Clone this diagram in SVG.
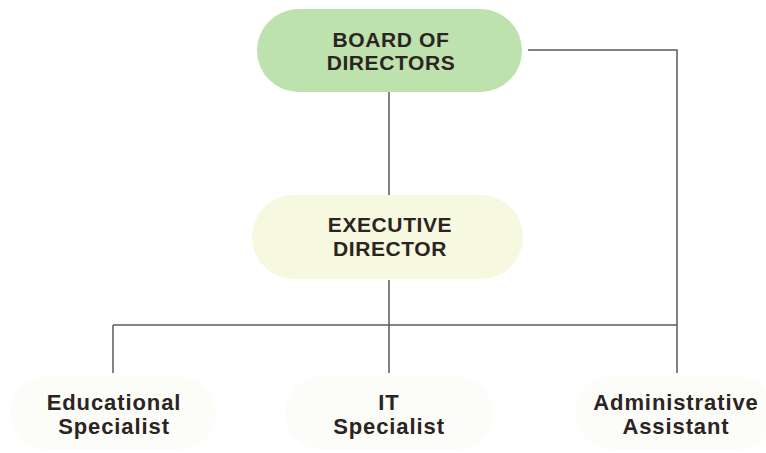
<svg xmlns="http://www.w3.org/2000/svg" width="766" height="453" viewBox="0 0 766 453">
<style>
.t{font-family:"Liberation Sans",Arial,sans-serif;font-weight:bold;fill:#2b2422;text-anchor:middle}
.top{font-size:21px;letter-spacing:0.6px}
.bot{font-size:22px;letter-spacing:0.9px}
.ln{stroke:#5a5a5a;stroke-width:1.5;fill:none}
.pill{fill:#fcfcf8}
</style>
<rect width="766" height="453" fill="#ffffff"/>
<g id="connectors">
<path class="ln" d="M389 92 V195"/>
<path class="ln" d="M389 280 V373"/>
<path class="ln" d="M528 50 H677 V373"/>
<path class="ln" d="M113 325 H677"/>
<path class="ln" d="M113 325 V373"/>
</g>
<g id="board">
<rect x="257" y="9" width="265" height="83" rx="41.5" fill="#bde2ad"/>
<text class="t top" x="391" y="47">BOARD OF</text>
<text class="t top" x="391" y="70">DIRECTORS</text>
</g>
<g id="executive">
<rect x="252" y="195" width="271" height="84" rx="42" fill="#f6f9df"/>
<text class="t top" x="390" y="232">EXECUTIVE</text>
<text class="t top" x="390" y="256">DIRECTOR</text>
</g>
<g id="educational">
<rect x="10" y="376" width="206" height="74" rx="37" class="pill"/>
<text class="t bot" x="114" y="410">Educational</text>
<text class="t bot" x="114" y="434">Specialist</text>
</g>
<g id="it">
<rect x="285" y="376" width="208" height="74" rx="37" class="pill"/>
<text class="t bot" x="389" y="410">IT</text>
<text class="t bot" x="389" y="434">Specialist</text>
</g>
<g id="admin">
<rect x="575" y="376" width="200" height="74" rx="37" class="pill"/>
<text class="t bot" x="676" y="410">Administrative</text>
<text class="t bot" x="676" y="434">Assistant</text>
</g>
</svg>
